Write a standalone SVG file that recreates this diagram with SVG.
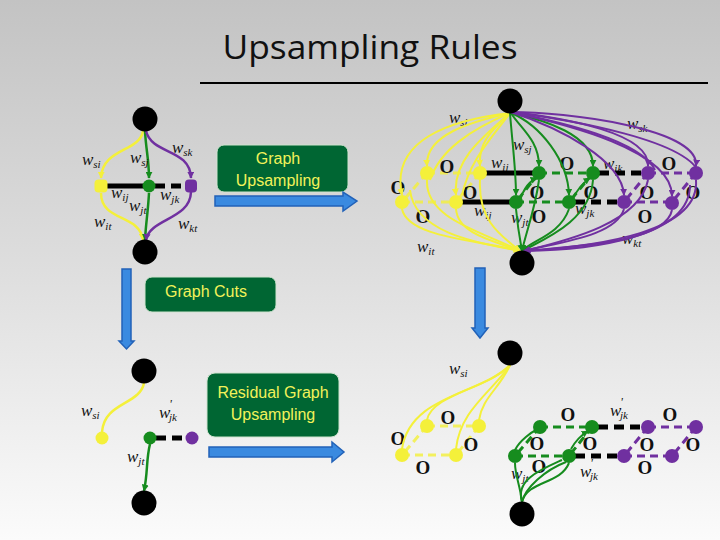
<svg xmlns="http://www.w3.org/2000/svg" width="720" height="540" viewBox="0 0 720 540">
<defs>
<linearGradient id="bg" x1="0" y1="0" x2="0" y2="1">
<stop offset="0" stop-color="#c3c3c3"/>
<stop offset="0.5" stop-color="#dedede"/>
<stop offset="1" stop-color="#fbfbfb"/>
</linearGradient>
<marker id="ay" viewBox="0 0 10 10" refX="9" refY="5" markerWidth="7" markerHeight="7" markerUnits="userSpaceOnUse" orient="auto"><path d="M0,0L10,5L0,10z" fill="#f4f03a"/></marker>
<marker id="ag" viewBox="0 0 10 10" refX="9" refY="5" markerWidth="7" markerHeight="7" markerUnits="userSpaceOnUse" orient="auto"><path d="M0,0L10,5L0,10z" fill="#168c1e"/></marker>
<marker id="ap" viewBox="0 0 10 10" refX="9" refY="5" markerWidth="7" markerHeight="7" markerUnits="userSpaceOnUse" orient="auto"><path d="M0,0L10,5L0,10z" fill="#7030a0"/></marker>
</defs>
<style>
.w{font-family:"Liberation Serif","Times New Roman",serif;font-style:italic;font-size:17px;fill:#111}
.s{font-size:11px}
.pr{font-size:12px}
.o{font-family:"Liberation Serif","Times New Roman",serif;font-weight:bold;font-size:19px;fill:#111;text-anchor:middle}
.bt{font-family:"Liberation Sans",Arial,sans-serif;font-size:16px;fill:#f2f25a;text-anchor:middle}
.box{fill:#006633;stroke:#cfe3cf;stroke-width:1}
.blue{fill:#3a8ae0;stroke:#2262b8;stroke-width:1.5}
.big{fill:#000}
.y{fill:none;stroke:#f4f03a;stroke-width:2.5}
.g{fill:none;stroke:#168c1e;stroke-width:2.5}
.p{fill:none;stroke:#7030a0;stroke-width:2.5}
.yt{fill:none;stroke:#f4f03a;stroke-width:2}
.gt{fill:none;stroke:#168c1e;stroke-width:2}
.pt{fill:none;stroke:#7030a0;stroke-width:2}
.ya{marker-end:url(#ay)}
.ga{marker-end:url(#ag)}
.pa{marker-end:url(#ap)}
.bs{stroke:#000;stroke-width:5}
.bd{stroke:#000;stroke-width:5;stroke-dasharray:10 6}
.yd{stroke:#f4f03a;stroke-width:3;stroke-dasharray:8 5;opacity:0.8}
.gd{stroke:#168c1e;stroke-width:3;stroke-dasharray:8 5}
.pd{stroke:#7030a0;stroke-width:3;stroke-dasharray:8 5}
.yn{fill:#f4f03a}
.gn{fill:#168c1e}
.pn{fill:#7030a0}
</style>
<rect x="0" y="0" width="720" height="540" fill="url(#bg)"/>

<g id="title">
<text x="370" y="59" font-family="'Open Sans','Liberation Sans',sans-serif" font-size="33" fill="#111" text-anchor="middle" textLength="295" lengthAdjust="spacingAndGlyphs">Upsampling Rules</text>
<line x1="200" y1="83" x2="708" y2="83" stroke="#000" stroke-width="2"/>
</g>

<!-- Top-left graph -->
<g id="graph1-edges">
<path class="y ya" d="M143,131 C140,152 102,148 101,178"/>
<path class="y ya" d="M101,193 C101,222 140,214 143,240"/>
<path class="g ga" d="M145,131 C146,150 149,160 149,178"/>
<path class="g ga" d="M149,193 C148,212 146,222 145,240"/>
<path class="p pa" d="M146,131 C152,155 190,148 191,178"/>
<path class="p pa" d="M191,192 C190,220 150,218 146,240"/>
<line class="bs" x1="101" y1="186" x2="149" y2="186"/>
<line class="bd" x1="155" y1="186" x2="191" y2="186"/>
</g>
<g id="graph1-nodes">
<circle class="big" cx="145" cy="119" r="12.5"/>
<circle class="big" cx="145" cy="252" r="12.5"/>
<rect class="yn" x="94.5" y="179.5" width="13" height="13" rx="4"/>
<circle class="gn" cx="149" cy="186" r="6.5"/>
<rect class="pn" x="185" y="179.5" width="12" height="13" rx="4"/>
</g>
<g id="graph1-labels">
<text class="w" x="82" y="165">w<tspan class="s" dy="3">si</tspan></text>
<text class="w" x="130" y="163">w<tspan class="s" dy="3">sj</tspan></text>
<text class="w" x="172" y="153">w<tspan class="s" dy="3">sk</tspan></text>
<text class="w" x="111" y="198">w<tspan class="s" dy="3">ij</tspan></text>
<text class="w" x="129" y="211">w<tspan class="s" dy="3">jt</tspan></text>
<text class="w" x="160" y="200">w<tspan class="s" dy="3">jk</tspan></text>
<text class="w" x="94" y="227">w<tspan class="s" dy="3">it</tspan></text>
<text class="w" x="178" y="229">w<tspan class="s" dy="3">kt</tspan></text>
</g>

<!-- Bottom-left graph -->
<g id="graph3-edges">
<path class="y" d="M144,383 C140,405 104,402 102,432"/>
<path class="g ga" d="M150,444 C146,460 148,472 144,491"/>
<line class="bd" x1="156" y1="438" x2="192" y2="438"/>
</g>
<g id="graph3-nodes">
<circle class="big" cx="144" cy="371" r="12.5"/>
<circle class="big" cx="144" cy="503" r="12.5"/>
<circle class="yn" cx="102" cy="438" r="6.5"/>
<circle class="gn" cx="150" cy="438" r="6.5"/>
<circle class="pn" cx="192" cy="438" r="6.5"/>
</g>
<g id="graph3-labels">
<text class="w" x="81" y="416">w<tspan class="s" dy="3">si</tspan></text>
<text class="w" x="159" y="418">w<tspan class="pr" dx="-1" dy="-10">'</tspan><tspan class="s" dx="-3" dy="13">jk</tspan></text>
<text class="w" x="127" y="462">w<tspan class="s" dy="3">jt</tspan></text>
</g>

<!-- Boxes and arrows -->
<g id="box-graph-upsampling">
<rect class="box" x="217" y="145" width="131" height="47" rx="7"/>
<text class="bt" x="278" y="164">Graph</text>
<text class="bt" x="278" y="186">Upsampling</text>
</g>
<g id="arrow-upsampling">
<path class="blue" d="M215,196 L343,196 L343,192 L357,201 L343,211 L343,206 L215,206 Z"/>
</g>
<g id="box-graph-cuts">
<rect class="box" x="145" y="277" width="131" height="35" rx="7"/>
<text class="bt" x="206" y="297">Graph Cuts</text>
</g>
<g id="arrow-cuts-left">
<path class="blue" d="M122,269 L131,269 L131,341 L134,341 L126.5,349 L119,341 L122,341 Z"/>
</g>
<g id="arrow-cuts-right">
<path class="blue" d="M475,268 L485,268 L485,328 L488,328 L480,338 L472,328 L475,328 Z"/>
</g>
<g id="box-residual">
<rect class="box" x="207" y="373" width="132" height="64" rx="8"/>
<text class="bt" x="273" y="398">Residual Graph</text>
<text class="bt" x="273" y="420">Upsampling</text>
</g>
<g id="arrow-residual">
<path class="blue" d="M209,447 L332,447 L332,442 L344,452 L332,462 L332,457 L209,457 Z"/>
</g>

<!-- Top-right graph -->
<g id="graph2-labels">
<text class="w" x="449" y="123">w<tspan class="s" dy="3">si</tspan></text>
<text class="w" x="627" y="129">w<tspan class="s" dy="3">sk</tspan></text>
<text class="w" x="513" y="150">w<tspan class="s" dy="3">sj</tspan></text>
<text class="w" x="491" y="168">w<tspan class="s" dy="3">ij</tspan></text>
<text class="w" x="603" y="169">w<tspan class="s" dy="3">ik</tspan></text>
<text class="w" x="474" y="216">w<tspan class="s" dy="3">ij</tspan></text>
<text class="w" x="511" y="223">w<tspan class="s" dy="3">jt</tspan></text>
<text class="w" x="575" y="214">w<tspan class="s" dy="3">jk</tspan></text>
<text class="w" x="417" y="252">w<tspan class="s" dy="3">it</tspan></text>
<text class="w" x="622" y="244">w<tspan class="s" dy="3">kt</tspan></text>
</g>
<g id="graph2-grid">
<line class="yd" x1="427" y1="173" x2="480" y2="173"/>
<line class="yd" x1="402" y1="202" x2="456" y2="202"/>
<line class="yd" x1="427" y1="173" x2="402" y2="202"/>
<line class="yd" x1="480" y1="173" x2="456" y2="202"/>
<line class="bs" x1="480" y1="173" x2="539" y2="173"/>
<line class="bs" x1="456" y1="202" x2="516" y2="202"/>
<line class="gd" x1="539" y1="173" x2="593" y2="173"/>
<line class="gd" x1="516" y1="202" x2="569" y2="202"/>
<line class="gd" x1="539" y1="173" x2="516" y2="202"/>
<line class="gd" x1="593" y1="173" x2="569" y2="202"/>
<line class="bd" x1="599" y1="173" x2="648" y2="173"/>
<line class="bd" x1="575" y1="202" x2="624" y2="202"/>
<line class="pd" x1="648" y1="173" x2="696" y2="173"/>
<line class="pd" x1="624" y1="202" x2="672" y2="202"/>
<line class="pd" x1="648" y1="173" x2="624" y2="202"/>
<line class="pd" x1="696" y1="173" x2="672" y2="202"/>
</g>
<g id="graph2-O">
<text class="o" x="447" y="173">O</text>
<text class="o" x="567" y="170">O</text>
<text class="o" x="669" y="170">O</text>
<text class="o" x="398" y="194">O</text>
<text class="o" x="470" y="199">O</text>
<text class="o" x="537" y="199">O</text>
<text class="o" x="591" y="199">O</text>
<text class="o" x="647" y="199">O</text>
<text class="o" x="693" y="199">O</text>
<text class="o" x="423" y="223">O</text>
<text class="o" x="539" y="223">O</text>
<text class="o" x="645" y="223">O</text>
</g>
<g id="graph2-edges">
<path class="yt ya" d="M510,113 C470,122 425,135 427,166"/>
<path class="yt ya" d="M510,113 C495,128 478,140 480,166"/>
<path class="yt ya" d="M510,113 C450,120 390,140 402,195"/>
<path class="yt ya" d="M510,113 C485,135 452,160 456,195"/>
<path class="yt" d="M510,113 C470,130 440,150 430,180"/>
<path class="yt" d="M510,113 C490,140 470,160 462,195"/>
<path class="yt ya" d="M427,180 C425,220 485,232 520,251"/>
<path class="yt ya" d="M480,180 C478,220 500,235 520,251"/>
<path class="yt ya" d="M402,209 C408,238 480,240 520,251"/>
<path class="yt ya" d="M456,209 C458,236 500,242 520,251"/>
<path class="yt" d="M410,190 C415,235 485,244 520,251"/>
<path class="gt ga" d="M511,113 C520,128 539,140 539,166"/>
<path class="gt ga" d="M511,113 C545,120 593,135 593,166"/>
<path class="gt ga" d="M510,113 C512,140 516,170 516,195"/>
<path class="gt ga" d="M511,113 C540,125 568,160 569,195"/>
<path class="gt ga" d="M539,180 C535,210 526,232 522,251"/>
<path class="gt ga" d="M516,209 C518,230 520,240 522,251"/>
<path class="gt ga" d="M569,209 C560,235 532,240 522,251"/>
<path class="gt ga" d="M593,180 C590,222 542,240 522,251"/>
<path class="gt ga" d="M520,200 C525,185 532,180 537,178"/>
<path class="gt ga" d="M572,200 C578,188 584,182 590,178"/>
<path class="pt pa" d="M511,112 C565,112 700,128 696,166"/>
<path class="pt pa" d="M511,112 C565,118 650,133 648,166"/>
<path class="pt pa" d="M511,112 C565,124 672,150 672,196"/>
<path class="pt pa" d="M511,112 C560,128 622,160 624,195"/>
<path class="pt" d="M511,112 C570,120 690,140 700,175"/>
<path class="pt" d="M511,112 C560,122 640,140 655,170"/>
<path class="pt pa" d="M624,209 C616,236 560,242 524,251"/>
<path class="pt pa" d="M672,210 C666,242 580,246 524,251"/>
<path class="pt pa" d="M648,180 C640,222 570,240 524,251"/>
<path class="pt pa" d="M696,180 C700,232 600,246 524,251"/>
<path class="pt" d="M690,185 C690,238 590,250 524,251"/>
</g>
<g id="graph2-nodes">
<circle class="big" cx="510" cy="101" r="12.5"/>
<circle class="big" cx="522" cy="263" r="12.5"/>
<circle class="yn" cx="427" cy="173" r="7"/>
<circle class="yn" cx="480" cy="173" r="7"/>
<circle class="yn" cx="402" cy="202" r="7"/>
<circle class="yn" cx="456" cy="202" r="7"/>
<circle class="gn" cx="539" cy="173" r="7"/>
<circle class="gn" cx="593" cy="173" r="7"/>
<circle class="gn" cx="516" cy="202" r="7"/>
<circle class="gn" cx="569" cy="202" r="7"/>
<circle class="pn" cx="648" cy="173" r="7"/>
<circle class="pn" cx="696" cy="173" r="7"/>
<circle class="pn" cx="624" cy="202" r="7"/>
<circle class="pn" cx="672" cy="203" r="7"/>
</g>

<!-- Bottom-right residual graph -->
<g id="graph4-labels">
<text class="w" x="449" y="374">w<tspan class="s" dy="3">si</tspan></text>
<text class="w" x="610" y="416">w<tspan class="pr" dx="-1" dy="-10">'</tspan><tspan class="s" dx="-3" dy="13">jk</tspan></text>
<text class="w" x="580" y="477">w<tspan class="pr" dx="-1" dy="-10">'</tspan><tspan class="s" dx="-3" dy="13">jk</tspan></text>
<text class="w" x="511" y="479">w<tspan class="s" dy="3">jt</tspan></text>
</g>
<g id="graph4-grid">
<line class="yd" x1="427" y1="426" x2="479" y2="426"/>
<line class="yd" x1="402" y1="455" x2="456" y2="455"/>
<line class="yd" x1="427" y1="426" x2="402" y2="455"/>
<line class="yd" x1="479" y1="426" x2="456" y2="455"/>
<line class="gd" x1="540" y1="427" x2="592" y2="427"/>
<line class="gd" x1="515" y1="456" x2="569" y2="456"/>
<line class="gd" x1="540" y1="427" x2="515" y2="456"/>
<line class="gd" x1="592" y1="427" x2="569" y2="456"/>
<line class="bd" x1="598" y1="427" x2="648" y2="427"/>
<line class="bd" x1="575" y1="456" x2="624" y2="456"/>
<line class="pd" x1="648" y1="427" x2="696" y2="427"/>
<line class="pd" x1="624" y1="456" x2="672" y2="456"/>
<line class="pd" x1="648" y1="427" x2="624" y2="456"/>
<line class="pd" x1="696" y1="427" x2="672" y2="456"/>
</g>
<g id="graph4-O">
<text class="o" x="448" y="424">O</text>
<text class="o" x="568" y="421">O</text>
<text class="o" x="670" y="421">O</text>
<text class="o" x="398" y="445">O</text>
<text class="o" x="471" y="451">O</text>
<text class="o" x="537" y="450">O</text>
<text class="o" x="590" y="450">O</text>
<text class="o" x="647" y="451">O</text>
<text class="o" x="693" y="451">O</text>
<text class="o" x="423" y="474">O</text>
<text class="o" x="539" y="473">O</text>
<text class="o" x="645" y="474">O</text>
</g>
<g id="graph4-edges">
<path class="yt" d="M510,365 C490,388 432,394 427,420"/>
<path class="yt" d="M510,365 C500,388 482,398 479,420"/>
<path class="yt" d="M510,365 C480,395 410,395 402,449"/>
<path class="yt" d="M510,365 C492,392 460,410 456,449"/>
<path class="gt" d="M522,502 C520,485 515,475 515,463"/>
<path class="gt" d="M522,502 C528,480 560,485 569,463"/>
<path class="gt" d="M522,502 C525,488 545,470 566,462"/>
<path class="gt" d="M522,502 C515,480 540,470 562,460"/>
<path class="gt" d="M515,450 C520,440 532,432 536,430"/>
<path class="gt ga" d="M571,449 C576,440 583,434 588,431"/>
</g>
<g id="graph4-nodes">
<circle class="big" cx="510" cy="353" r="12.5"/>
<circle class="big" cx="522" cy="514" r="12.5"/>
<circle class="yn" cx="427" cy="426" r="7"/>
<circle class="yn" cx="479" cy="426" r="7"/>
<circle class="yn" cx="402" cy="455" r="7"/>
<circle class="yn" cx="456" cy="455" r="7"/>
<circle class="gn" cx="540" cy="427" r="7"/>
<circle class="gn" cx="592" cy="427" r="7"/>
<circle class="gn" cx="515" cy="456" r="7"/>
<circle class="gn" cx="569" cy="456" r="7"/>
<circle class="pn" cx="648" cy="427" r="7"/>
<circle class="pn" cx="696" cy="427" r="7"/>
<circle class="pn" cx="624" cy="456" r="7"/>
<circle class="pn" cx="672" cy="456" r="7"/>
</g>
</svg>
